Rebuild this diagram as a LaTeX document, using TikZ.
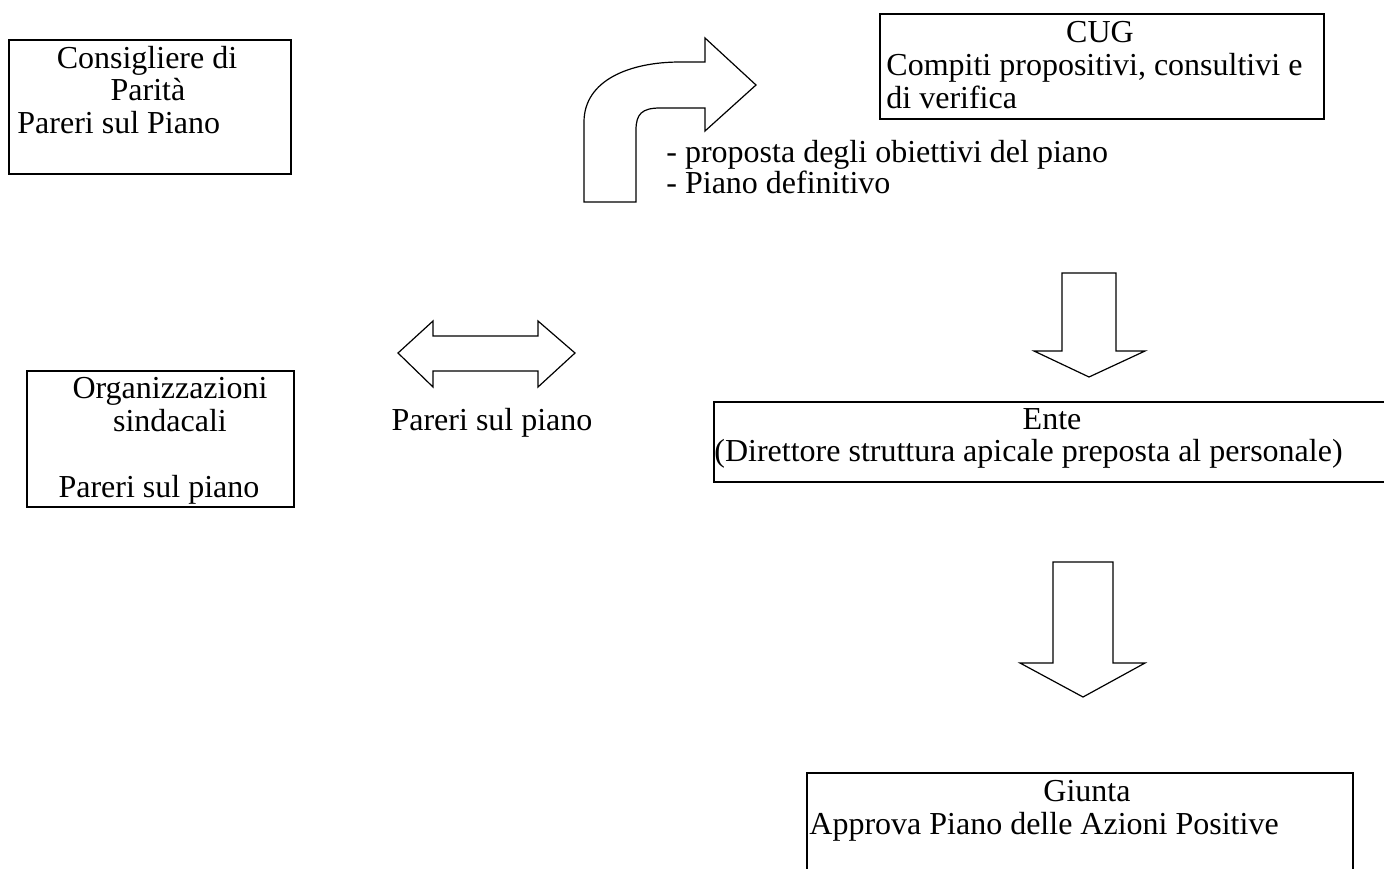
\documentclass[tikz,border=0pt]{standalone}
\usepackage{fontspec}
\setmainfont{Liberation Serif}
\usetikzlibrary{positioning}

\begin{document}
\begin{tikzpicture}[x=0.5pt,y=-0.5pt]
\tikzstyle{every node}+=[inner sep=0pt, font=\fontsize{16}{19}\selectfont]
\tikzstyle{box}=[draw=black, line width=1pt, anchor=north west]
\tikzstyle{blockarrow}=[draw=black, line width=0.6pt, line join=miter]
\tikzstyle{txt}=[anchor=base]
\tikzstyle{txtl}=[anchor=base west]
\useasboundingbox (0,0) rectangle (1384,868);
% boxes
\node [box, minimum width=141pt, minimum height=67pt] (consigliere) at (8,39) {};
\node [box, minimum width=133.5pt, minimum height=68pt] (sindacati) at (26,370) {};
\node [box, minimum width=222pt, minimum height=52.5pt] (cug) at (879,13) {};
\node [box, minimum width=343.5pt, minimum height=40pt] (ente) at (713,401) {};
\node [box, minimum width=273pt, minimum height=64pt] (giunta) at (806,772) {};
% texts in the boxes
\node [txt] (consigliere-a) at (147,68) {Consigliere di};
\node [txt] (consigliere-b) at (148,100) {Parità};
\node [txtl] (consigliere-c) at (17,133) {Pareri sul Piano};
\node [txt] (sindacati-a) at (170,398) {Organizzazioni};
\node [txt] (sindacati-b) at (170,431) {sindacali};
\node [txt] (sindacati-c) at (159,497) {Pareri sul piano};
\node [txt] (cug-a) at (1100,42) {CUG};
\node [txtl] (cug-b) at (886,75) {Compiti propositivi, consultivi e};
\node [txtl] (cug-c) at (886,108) {di verifica};
\node [txt] (ente-a) at (1052,429) {Ente};
\node [txtl] (ente-b) at (714,461) {(Direttore struttura apicale preposta al personale)};
\node [txt] (giunta-a) at (1087,801) {Giunta};
\node [txtl] (giunta-b) at (809,834) {Approva Piano delle Azioni Positive};
% labels beside the arrows
\node [txtl] (prop-a) at (666,162) {- proposta degli obiettivi del piano};
\node [txtl] (prop-b) at (666,193) {- Piano definitivo};
\node [txt] (pareri) at (492,430) {Pareri sul piano};
% bent arrow
\draw [blockarrow] (584,202) -- (584,122) .. controls (584,80) and (630,62) .. (680,62)
  -- (705,62) -- (705,38) -- (756,85) -- (705,131) -- (705,108) -- (660,108)
  .. controls (642,108) and (636,114) .. (636,130) -- (636,202) -- cycle;
% double arrow
\draw [blockarrow] (398,353) -- (433,321) -- (433,336) -- (538,336) -- (538,321) -- (575,353)
  -- (538,387) -- (538,371) -- (433,371) -- (433,387) -- cycle;
% down arrows
\draw [blockarrow] (1062,273) -- (1116,273) -- (1116,351) -- (1145,351) -- (1089,377)
  -- (1034,351) -- (1062,351) -- cycle;
\draw [blockarrow] (1053,562) -- (1113,562) -- (1113,663) -- (1145,663) -- (1083,697)
  -- (1020,663) -- (1053,663) -- cycle;
\end{tikzpicture}
\end{document}
